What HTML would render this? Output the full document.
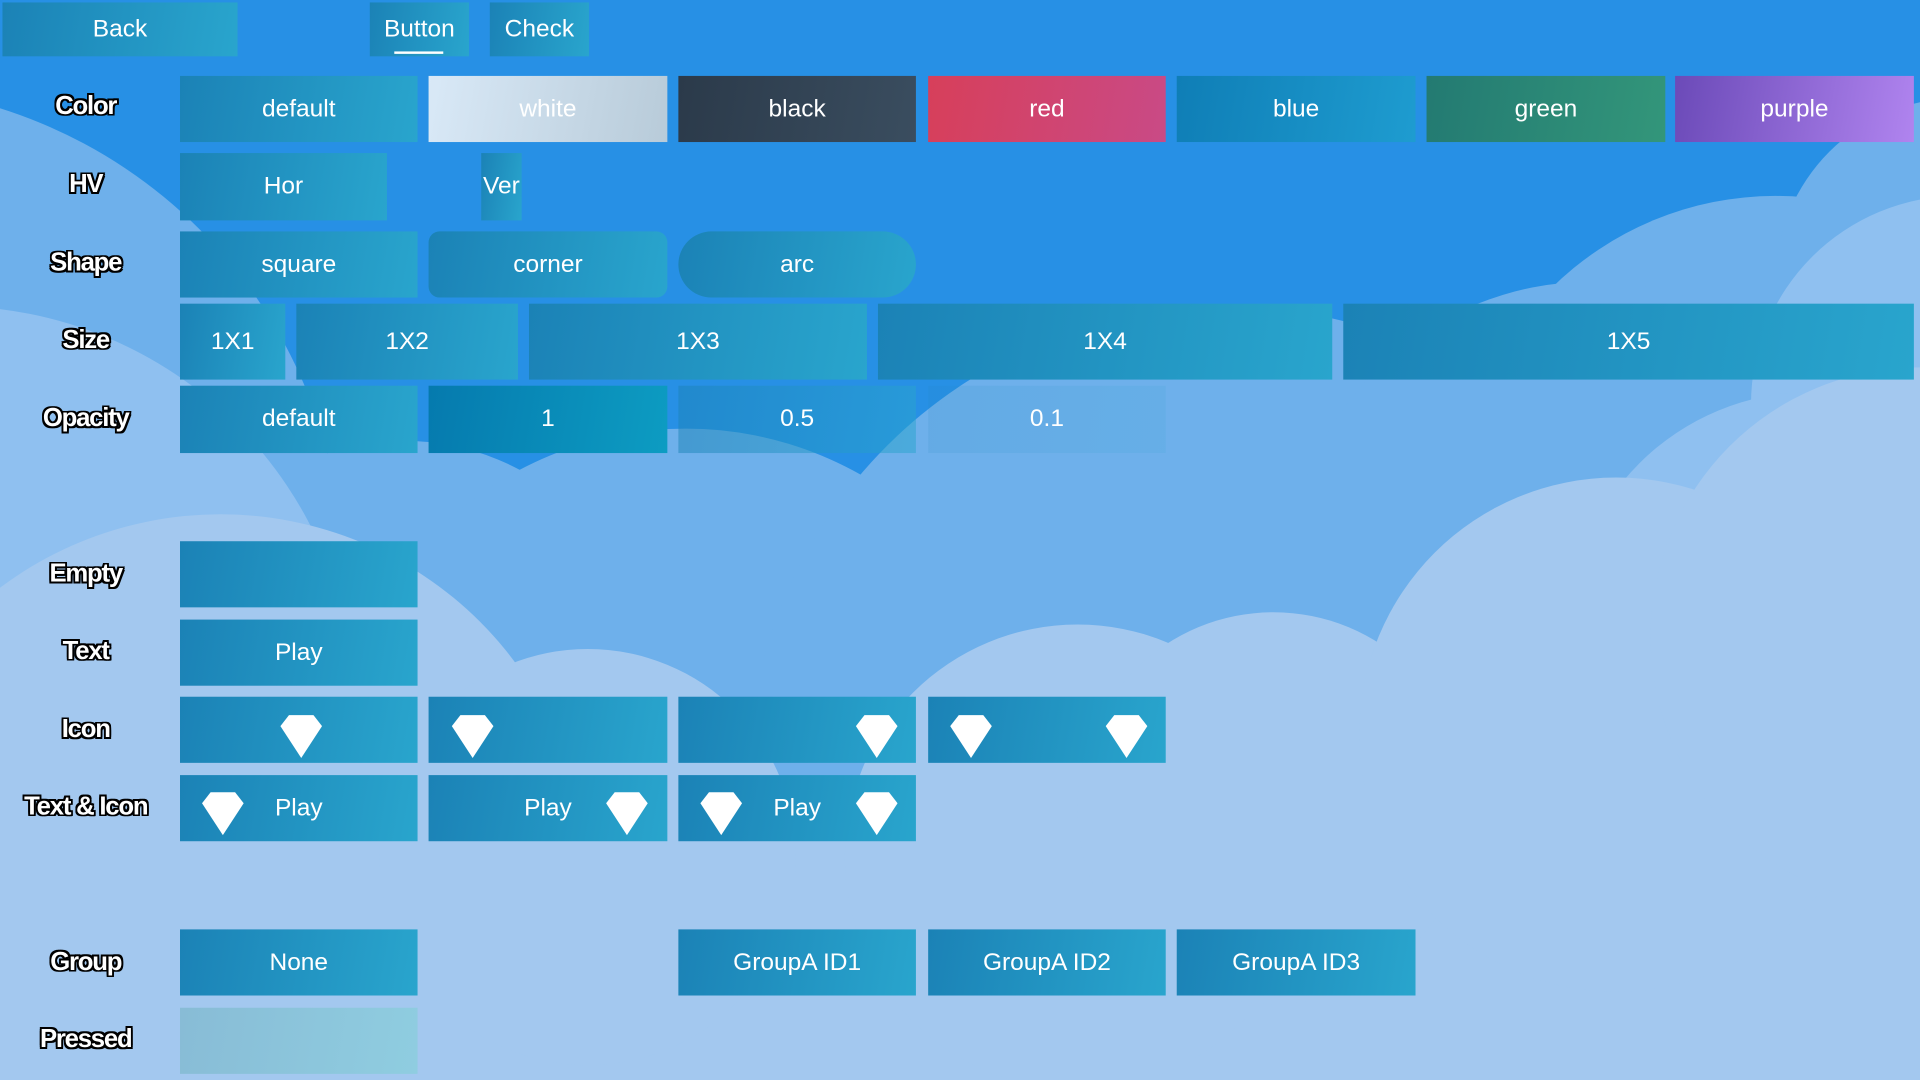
<!DOCTYPE html>
<html><head><meta charset="utf-8"><style>
html,body{margin:0;padding:0;width:1920px;height:1080px;overflow:hidden;background:#a3c8ef}
#s{position:absolute;left:0;top:0;width:1568px;height:882px;overflow:hidden;transform:scale(1.22449);transform-origin:0 0;font-family:"Liberation Sans",sans-serif}
.b{position:absolute;background:linear-gradient(100deg,#1b82b6,#29a5cd);color:#fff;font-size:20px;display:flex;align-items:center;justify-content:center;box-sizing:border-box}
.l{position:absolute;width:140px;left:0;text-align:center;font-size:21px;font-weight:bold;color:#fff;letter-spacing:-1px;
text-shadow:-1.5px -1.5px 0 #000,1.5px -1.5px 0 #000,-1.5px 1.5px 0 #000,1.5px 1.5px 0 #000,0 1.5px 0 #000,0 -1.5px 0 #000,1.5px 0 0 #000,-1.5px 0 0 #000}
</style></head><body><div id="s">
<svg width="1568" height="882" style="position:absolute;left:0;top:0">
<rect width="1568" height="882" fill="#2790e5"/>
<g fill="#6eb0eb">
<rect x="0" y="470" width="1568" height="420"/>
<circle cx="-120" cy="470" r="400"/>
<circle cx="330" cy="560" r="200"/>
<circle cx="560" cy="640" r="290"/>
<circle cx="1000" cy="640" r="390"/>
<circle cx="1450" cy="420" r="260"/>
<circle cx="1600" cy="230" r="150"/>
<circle cx="1300" cy="480" r="250"/>
</g>
<g fill="#8fc0f0">
<circle cx="-40" cy="580" r="330"/>
<circle cx="1600" cy="330" r="170"/>
<circle cx="1480" cy="520" r="200"/>
</g>
<g fill="#a3c8ef">
<rect x="0" y="640" width="1568" height="250"/>
<circle cx="180" cy="720" r="300"/>
<circle cx="480" cy="700" r="170"/>
<circle cx="880" cy="700" r="190"/>
<circle cx="1040" cy="660" r="160"/>
<circle cx="1320" cy="600" r="210"/>
<circle cx="1568" cy="520" r="220"/>
</g>
</svg>

<div class="b" style="left:2px;top:2px;width:192px;height:44px">Back</div>
<div class="b" style="left:302px;top:2px;width:81px;height:44px">Button<div style="position:absolute;left:20px;bottom:2px;width:40px;height:2px;background:#fff"></div></div>
<div class="b" style="left:400px;top:2px;width:81px;height:44px">Check</div>

<div class="l" style="top:75px">Color</div>
<div class="b" style="left:147px;top:62px;width:194px;height:54px">default</div>
<div class="b" style="left:350px;top:62px;width:195px;height:54px;background:linear-gradient(100deg,#d9e9f7,#b8cbd9)">white</div>
<div class="b" style="left:554px;top:62px;width:194px;height:54px;background:linear-gradient(100deg,#2b3a4a,#3a4d5f)">black</div>
<div class="b" style="left:758px;top:62px;width:194px;height:54px;background:linear-gradient(100deg,#d73f5a,#c94a86)">red</div>
<div class="b" style="left:961px;top:62px;width:195px;height:54px;background:linear-gradient(100deg,#0f7eb6,#1e9cd0)">blue</div>
<div class="b" style="left:1165px;top:62px;width:195px;height:54px;background:linear-gradient(100deg,#237a72,#33967a)">green</div>
<div class="b" style="left:1368px;top:62px;width:195px;height:54px;background:linear-gradient(100deg,#6b4ab8,#b084ef)">purple</div>

<div class="l" style="top:139px">HV</div>
<div class="b" style="left:147px;top:125px;width:169px;height:55px">Hor</div>
<div class="b" style="left:393px;top:125px;width:33px;height:55px">Ver</div>

<div class="l" style="top:203px">Shape</div>
<div class="b" style="left:147px;top:189px;width:194px;height:54px">square</div>
<div class="b" style="left:350px;top:189px;width:195px;height:54px;border-radius:9px">corner</div>
<div class="b" style="left:554px;top:189px;width:194px;height:54px;border-radius:27px">arc</div>

<div class="l" style="top:266px">Size</div>
<div class="b" style="left:147px;top:248px;width:86px;height:62px">1X1</div>
<div class="b" style="left:242px;top:248px;width:181px;height:62px">1X2</div>
<div class="b" style="left:432px;top:248px;width:276px;height:62px">1X3</div>
<div class="b" style="left:717px;top:248px;width:371px;height:62px">1X4</div>
<div class="b" style="left:1097px;top:248px;width:466px;height:62px">1X5</div>

<div class="l" style="top:330px">Opacity</div>
<div class="b" style="left:147px;top:315px;width:194px;height:55px">default</div>
<div class="b" style="left:350px;top:315px;width:195px;height:55px;background:linear-gradient(100deg,#057aae,#0d9cc2)">1</div>
<div class="b" style="left:554px;top:315px;width:194px;height:55px;background:linear-gradient(100deg,rgba(27,130,182,.5),rgba(41,165,205,.5))">0.5</div>
<div class="b" style="left:758px;top:315px;width:194px;height:55px;background:linear-gradient(100deg,rgba(27,130,182,.12),rgba(41,165,205,.12))">0.1</div>

<div class="l" style="top:457px">Empty</div>
<div class="b" style="left:147px;top:442px;width:194px;height:54px"></div>
<div class="l" style="top:520px">Text</div>
<div class="b" style="left:147px;top:506px;width:194px;height:54px">Play</div>

<div class="l" style="top:584px">Icon</div>
<div class="b" style="left:147px;top:569px;width:194px;height:54px"></div>
<div class="b" style="left:350px;top:569px;width:195px;height:54px"></div>
<div class="b" style="left:554px;top:569px;width:194px;height:54px"></div>
<div class="b" style="left:758px;top:569px;width:194px;height:54px"></div>

<div class="l" style="top:647px">Text &amp; Icon</div>
<div class="b" style="left:147px;top:633px;width:194px;height:54px">Play</div>
<div class="b" style="left:350px;top:633px;width:195px;height:54px">Play</div>
<div class="b" style="left:554px;top:633px;width:194px;height:54px">Play</div>

<svg width="1568" height="882" style="position:absolute;left:0;top:0" fill="#fff">
<defs><polygon id="dm" points="-10,-13 10,-13 17,-4 0,22 -17,-4"/></defs>
<use href="#dm" x="246" y="597"/>
<use href="#dm" x="386" y="597"/>
<use href="#dm" x="716" y="597"/>
<use href="#dm" x="793" y="597"/>
<use href="#dm" x="920" y="597"/>
<use href="#dm" x="182" y="660"/>
<use href="#dm" x="512" y="660"/>
<use href="#dm" x="589" y="660"/>
<use href="#dm" x="716" y="660"/>
</svg>

<div class="l" style="top:774px">Group</div>
<div class="b" style="left:147px;top:759px;width:194px;height:54px">None</div>
<div class="b" style="left:554px;top:759px;width:194px;height:54px">GroupA ID1</div>
<div class="b" style="left:758px;top:759px;width:194px;height:54px">GroupA ID2</div>
<div class="b" style="left:961px;top:759px;width:195px;height:54px">GroupA ID3</div>

<div class="l" style="top:837px">Pressed</div>
<div class="b" style="left:147px;top:823px;width:194px;height:54px;background:linear-gradient(100deg,#88bcd6,#8fcde0)"></div>
</div></body></html>
